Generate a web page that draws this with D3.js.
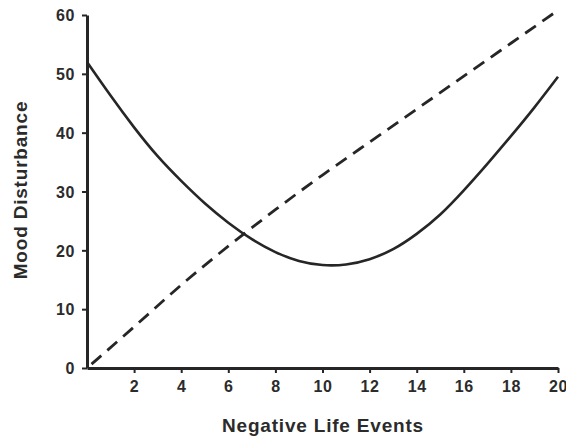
<!DOCTYPE html>
<html>
<head>
<meta charset="utf-8">
<script src="https://cdn.jsdelivr.net/npm/d3@7"></script>
<style>
  body { margin: 0; background: #fff; }
  text { font-family: "Liberation Sans", Arial, sans-serif; font-weight: bold; fill: #2b2b2b; }
</style>
</head>
<body>
<svg id="chart" width="566" height="437"></svg>
<script>
// values
var events = [0, 1, 2, 3, 4, 5, 6, 7, 8, 9, 10, 11, 12, 13, 14, 15, 16, 17, 18, 19, 20];
var moodCurve = [52, 46.3, 40.9, 36.0, 31.8, 28.0, 24.7, 21.9, 19.7, 18.2, 17.5, 17.6, 18.5, 20.2, 22.8, 26.1, 30.2, 34.7, 39.4, 44.3, 49.5];
var dashedX = [0, 2, 4, 6, 8, 10, 12, 14, 16, 18, 20];
var dashedY = [0, 7.0, 14.1, 20.7, 26.9, 32.8, 38.4, 44.0, 49.6, 55.2, 60.8];
var xTicks = [2, 4, 6, 8, 10, 12, 14, 16, 18, 20];
var yTicks = [0, 10, 20, 30, 40, 50, 60];

var svg = d3.select("#chart");
var margin = {top: 15, right: 8, bottom: 69, left: 87},
  width = 566 - margin.left - margin.right,
  height = 437 - margin.top - margin.bottom;

var g = svg.append("g").attr("transform", "translate(" + margin.left + "," + margin.top + ")");

var x = d3.scaleLinear().domain([0, 20]).range([0, width]);
var y = d3.scaleLinear().domain([0, 60]).range([height, 0]);

var ink = "#262626";

// axes
var xAxis = g.append("g")
  .attr("transform", "translate(0," + height + ")")
  .call(d3.axisBottom(x).tickValues(xTicks).tickSize(5).tickPadding(8).tickSizeOuter(0));
var yAxis = g.append("g")
  .call(d3.axisLeft(y).tickValues(yTicks).tickSize(5).tickPadding(7).tickSizeOuter(0));

[xAxis, yAxis].forEach(function(a) {
  a.select(".domain").attr("stroke", ink).attr("stroke-width", 3);
  a.selectAll(".tick line").attr("stroke", ink).attr("stroke-width", 2);
  a.selectAll(".tick text")
    .attr("fill", "#2b2b2b")
    .style("font-size", "16px")
    .style("letter-spacing", "0.6px")
    .style("font-family", "'Liberation Sans', Arial, sans-serif")
    .style("font-weight", "bold");
});
yAxis.selectAll(".tick text").attr("dy", "0.36em");

// lines
var solid = d3.line()
  .x(function(d, i) { return x(events[i]); })
  .y(function(d) { return y(d); })
  .curve(d3.curveNatural);

g.append("path")
  .datum(moodCurve)
  .attr("d", solid)
  .attr("fill", "none")
  .attr("stroke", ink)
  .attr("stroke-width", 2.6);

var dashed = d3.line()
  .x(function(d, i) { return x(dashedX[i]); })
  .y(function(d) { return y(d); })
  .curve(d3.curveNatural);

g.append("path")
  .datum(dashedY)
  .attr("d", dashed)
  .attr("fill", "none")
  .attr("stroke", ink)
  .attr("stroke-width", 2.8)
  .attr("stroke-dasharray", "13,8")
  .attr("stroke-dashoffset", -6);

// titles
svg.append("text")
  .attr("x", 323)
  .attr("y", 432)
  .attr("text-anchor", "middle")
  .style("font-size", "19px")
  .style("letter-spacing", "0.8px")
  .text("Negative Life Events");

svg.append("text")
  .attr("transform", "translate(27,190) rotate(-90)")
  .attr("text-anchor", "middle")
  .style("font-size", "19px")
  .style("letter-spacing", "0.8px")
  .text("Mood Disturbance");
</script>
</body>
</html>
